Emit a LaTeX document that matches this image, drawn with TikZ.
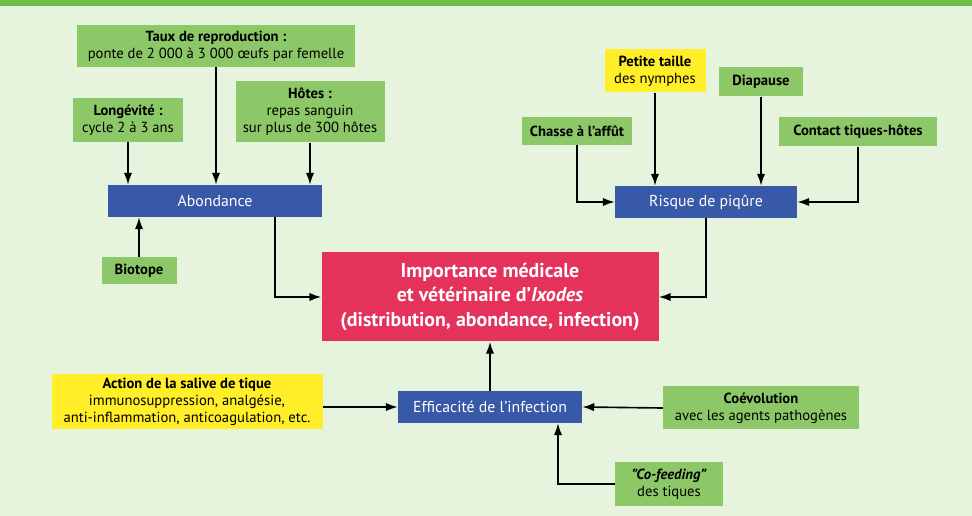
\documentclass[tikz,border=0pt]{standalone}
\usepackage{fontspec}
\setmainfont{PT Sans}
\usetikzlibrary{arrows.meta}

\definecolor{fond}{RGB}{230,244,222}
\definecolor{bandeau}{RGB}{112,190,72}
\definecolor{vertbox}{RGB}{141,200,104}
\definecolor{jaunebox}{RGB}{255,238,40}
\definecolor{bleubox}{RGB}{56,88,168}
\definecolor{rougebox}{RGB}{228,50,90}

\begin{document}
\begin{tikzpicture}[x=0.03cm,y=-0.03cm,
  facteur/.style={fill=vertbox,align=center,inner sep=1pt,font=\fontsize{12.5}{14.5}\selectfont},
  alerte/.style={facteur,fill=jaunebox},
  effet/.style={fill=bleubox,text=white,align=center,inner sep=1pt,font=\fontsize{13.5}{15}\selectfont},
  fleche/.style={line width=1.4pt,-{Latex[length=3.6mm,width=2.5mm]}}]
\useasboundingbox (0,0) rectangle (972,516);
\fill[fond] (0,0) rectangle (972,516);
\fill[bandeau] (0,0) rectangle (972,6);

% facteurs de l'abondance
\node (taux) [facteur,minimum width=278*0.03cm,minimum height=42*0.03cm] at (216,46) {\textbf{Taux de reproduction :}\\ponte de 2 000 à 3 000 œufs par femelle};
\node (longevite) [facteur,minimum width=110*0.03cm,minimum height=44*0.03cm] at (128,120) {\textbf{Longévité :}\\cycle 2 à 3 ans};
\node (hotes) [facteur,minimum width=149*0.03cm,minimum height=61*0.03cm] at (310,112) {\textbf{Hôtes :}\\repas sanguin\\sur plus de 300 hôtes};
\node (abondance) [effet,minimum width=214*0.03cm,minimum height=32*0.03cm] at (215,201) {Abondance};
\node (biotope) [facteur,minimum width=75*0.03cm,minimum height=27*0.03cm] at (139,271) {\textbf{Biotope}};

% facteurs du risque
\node (petite) [alerte,minimum width=101*0.03cm,minimum height=43*0.03cm] at (655,71) {\textbf{Petite taille}\\des nymphes};
\node (diapause) [facteur,minimum width=84*0.03cm,minimum height=29*0.03cm] at (761,82) {\textbf{Diapause}};
\node (chasse) [facteur,minimum width=110*0.03cm,minimum height=28*0.03cm] at (577,131) {\textbf{Chasse à l’affût}};
\node (contact) [facteur,minimum width=158*0.03cm,minimum height=29*0.03cm] at (858,132) {\textbf{Contact tiques-hôtes}};
\node (risque) [effet,minimum width=182*0.03cm,minimum height=32*0.03cm] at (706,202) {Risque de piqûre};

% centre
\node (importance) [fill=rougebox,text=white,align=center,minimum width=337*0.03cm,minimum height=89*0.03cm,font=\fontsize{17}{21}\selectfont\bfseries] at (490,297) {Importance médicale\\et vétérinaire d’\textit{Ixodes}\\(distribution, abondance, infection)};

% infection
\node (action) [alerte,minimum width=271*0.03cm,minimum height=55*0.03cm] at (187,402) {\textbf{Action de la salive de tique}\\immunosuppression, analgésie,\\anti-inflammation, anticoagulation, etc.};
\node (efficacite) [effet,minimum width=184*0.03cm,minimum height=32*0.03cm] at (490,407) {Efficacité de l’infection};
\node (coevolution) [facteur,minimum width=196*0.03cm,minimum height=43*0.03cm] at (761,408) {\textbf{Coévolution}\\avec les agents pathogènes};
\node (cofeeding) [facteur,minimum width=108*0.03cm,minimum height=43*0.03cm] at (669,484) {\textbf{\textit{"Co-feeding"}}\\des tiques};

\draw[fleche] (longevite.south) -- (longevite.south |- abondance.north);
\draw[fleche] (taux.south) -- (taux.south |- abondance.north);
\draw[fleche] (hotes.south) -- (hotes.south |- abondance.north);
\draw[fleche] (biotope.north) -- (biotope.north |- abondance.south);
\draw[fleche] ([xshift=60*0.03cm]abondance.south) |- (importance.west);

\draw[fleche] (petite.south) -- (petite.south |- risque.north);
\draw[fleche] (diapause.south) -- (diapause.south |- risque.north);
\draw[fleche] (chasse.south) |- (risque.west);
\draw[fleche] (contact.south) |- (risque.east);
\draw[fleche] (risque.south) |- (importance.east);

\draw[fleche] (action.east |- efficacite.west) -- (efficacite.west);
\draw[fleche] (coevolution.west) -- (efficacite.east);
\draw[fleche] (cofeeding.west) -| ([xshift=68*0.03cm]efficacite.south);
\draw[fleche] (efficacite.north) -- (importance.south);
\end{tikzpicture}
\end{document}
